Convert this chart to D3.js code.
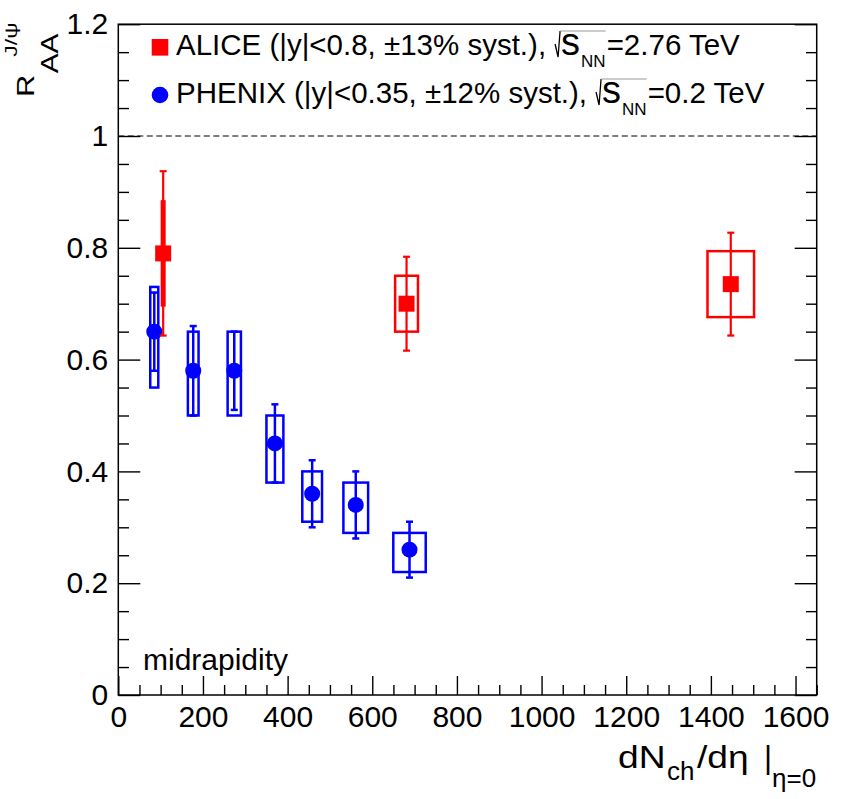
<!DOCTYPE html>
<html>
<head>
<meta charset="utf-8">
<script src="https://cdn.jsdelivr.net/npm/d3@7"></script>
<style>
  body { margin: 0; background: #fff; }
</style>
</head>
<body>
<script>
// ALICE J/psi RAA, Pb-Pb 2.76 TeV (red squares)
const aliceX = [106, 681, 1447];
const aliceY = [0.79, 0.70, 0.735];
const aliceStat = [0.147, 0.084, 0.092];
const aliceSyst = [0.093, 0.05, 0.059];
const aliceSystHalfW = [3, 27, 55];

// PHENIX J/psi RAA, Au-Au 0.2 TeV (blue circles)
const phenixX = [85, 177, 274, 370, 458, 561, 688];
const phenixY = [0.65, 0.58, 0.58, 0.45, 0.36, 0.34, 0.26];
const phenixStat = [0.07, 0.08, 0.07, 0.07, 0.06, 0.06, 0.05];
const phenixSystHi = [0.73, 0.65, 0.65, 0.50, 0.40, 0.38, 0.29];
const phenixSystLo = [0.55, 0.50, 0.50, 0.38, 0.31, 0.29, 0.22];
const phenixSystHalfW = [9.5, 12.6, 15.7, 20, 23.3, 29.2, 38.3];

const xMajor = [0, 200, 400, 600, 800, 1000, 1200, 1400, 1600];
const yMajor = [0, 0.2, 0.4, 0.6, 0.8, 1, 1.2];
const yLabels = ["0", "0.2", "0.4", "0.6", "0.8", "1", "1.2"];

const font = "'Liberation Sans', Arial, Helvetica, sans-serif";

const svg = d3.select("body").append("svg")
    .attr("width", 847)
    .attr("height", 799);

const x = d3.scaleLinear().domain([0, 1650]).range([118.3, 816.7]);
const y = d3.scaleLinear().domain([0, 1.2]).range([695, 24.2]);

function styleAxis(g, size) {
    g.select(".domain").remove();
    g.selectAll("line").attr("stroke", "#000").attr("stroke-width", 1.4);
    g.selectAll("text").attr("font-size", size).attr("font-family", font).attr("fill", "#000");
}

// x axis, ticks pointing into the frame
const xMinor = d3.range(0, 1651, 50).filter(d => d % 200 !== 0);
svg.append("g").attr("transform", "translate(0,695)")
    .call(d3.axisBottom(x).tickValues(xMinor).tickSize(-10).tickFormat(""))
    .call(g => styleAxis(g, 30));
svg.append("g").attr("transform", "translate(0,695)")
    .call(d3.axisBottom(x).tickValues(xMajor).tickSize(-19).tickPadding(11).tickFormat(d3.format("d")))
    .call(g => styleAxis(g, 30));

// y axis left + right
const yMinor = d3.range(0, 24).map(i => i * 0.05).filter((d, i) => i % 4 !== 0);
svg.append("g").attr("transform", "translate(118.3,0)")
    .call(d3.axisLeft(y).tickValues(yMinor).tickSize(-10.7).tickFormat(""))
    .call(g => styleAxis(g, 30));
svg.append("g").attr("transform", "translate(118.3,0)")
    .call(d3.axisLeft(y).tickValues(yMajor).tickSize(-22).tickPadding(10)
        .tickFormat((d, i) => yLabels[i]))
    .call(g => styleAxis(g, 30));
svg.append("g").attr("transform", "translate(816.7,0)")
    .call(d3.axisLeft(y).tickValues(yMinor).tickSize(10.7).tickFormat(""))
    .call(g => styleAxis(g, 30));
svg.append("g").attr("transform", "translate(816.7,0)")
    .call(d3.axisLeft(y).tickValues(yMajor).tickSize(22).tickFormat(""))
    .call(g => styleAxis(g, 30));

// frame
svg.append("rect")
    .attr("x", x(0)).attr("y", y(1.2))
    .attr("width", x(1650) - x(0)).attr("height", y(0) - y(1.2))
    .attr("fill", "none").attr("stroke", "#000").attr("stroke-width", 1.5);

// RAA = 1 reference
svg.append("line")
    .attr("x1", x(0)).attr("x2", x(1650))
    .attr("y1", y(1)).attr("y2", y(1))
    .attr("stroke", "#000").attr("stroke-width", 1)
    .attr("stroke-dasharray", "6,3.5");

// PHENIX
const phenix = phenixX.map((v, i) => ({
    x: v, y: phenixY[i], stat: phenixStat[i],
    hi: phenixSystHi[i], lo: phenixSystLo[i], hw: phenixSystHalfW[i]
}));
const gP = svg.append("g");
gP.selectAll("rect").data(phenix).enter().append("rect")
    .attr("x", d => x(d.x - d.hw))
    .attr("y", d => y(d.hi))
    .attr("width", d => x(d.x + d.hw) - x(d.x - d.hw))
    .attr("height", d => y(d.lo) - y(d.hi))
    .attr("fill", "none").attr("stroke", "#0000ff").attr("stroke-width", 2.5);
gP.selectAll("line.bar").data(phenix).enter().append("line")
    .attr("class", "bar")
    .attr("x1", d => x(d.x)).attr("x2", d => x(d.x))
    .attr("y1", d => y(d.y + d.stat)).attr("y2", d => y(d.y - d.stat))
    .attr("stroke", "#0000ff").attr("stroke-width", 2.5);
[1, -1].forEach(s => {
    gP.selectAll("line.cap" + (s > 0 ? "t" : "b")).data(phenix).enter().append("line")
        .attr("class", "cap" + (s > 0 ? "t" : "b"))
        .attr("x1", d => x(d.x) - 3.5).attr("x2", d => x(d.x) + 3.5)
        .attr("y1", d => y(d.y + s * d.stat)).attr("y2", d => y(d.y + s * d.stat))
        .attr("stroke", "#0000ff").attr("stroke-width", 2.5);
});
gP.selectAll("circle").data(phenix).enter().append("circle")
    .attr("cx", d => x(d.x)).attr("cy", d => y(d.y)).attr("r", 8)
    .attr("fill", "#0000ff");

// ALICE
const alice = aliceX.map((v, i) => ({
    x: v, y: aliceY[i], stat: aliceStat[i], syst: aliceSyst[i], hw: aliceSystHalfW[i]
}));
const gA = svg.append("g");
gA.selectAll("rect.sys").data(alice).enter().append("rect")
    .attr("class", "sys")
    .attr("x", d => x(d.x - d.hw))
    .attr("y", d => y(d.y + d.syst))
    .attr("width", d => x(d.x + d.hw) - x(d.x - d.hw))
    .attr("height", d => y(d.y - d.syst) - y(d.y + d.syst))
    .attr("fill", "none").attr("stroke", "#ff0000").attr("stroke-width", 2.5);
gA.selectAll("line.bar").data(alice).enter().append("line")
    .attr("class", "bar")
    .attr("x1", d => x(d.x)).attr("x2", d => x(d.x))
    .attr("y1", d => y(d.y + d.stat)).attr("y2", d => y(d.y - d.stat))
    .attr("stroke", "#ff0000").attr("stroke-width", 2.2);
[1, -1].forEach(s => {
    gA.selectAll("line.cap" + (s > 0 ? "t" : "b")).data(alice).enter().append("line")
        .attr("class", "cap" + (s > 0 ? "t" : "b"))
        .attr("x1", d => x(d.x) - 3.5).attr("x2", d => x(d.x) + 3.5)
        .attr("y1", d => y(d.y + s * d.stat)).attr("y2", d => y(d.y + s * d.stat))
        .attr("stroke", "#ff0000").attr("stroke-width", 2.2);
});
gA.selectAll("rect.mk").data(alice).enter().append("rect")
    .attr("class", "mk")
    .attr("x", d => x(d.x) - 8).attr("y", d => y(d.y) - 8)
    .attr("width", 16).attr("height", 16)
    .attr("fill", "#ff0000");

// text helpers
function addText(px, py, str, size, tf) {
    const t = svg.append("text")
        .attr("font-size", size).attr("font-family", font).attr("fill", "#000")
        .text(str);
    if (tf) t.attr("transform", `translate(${px},${py}) ${tf}`);
    else t.attr("x", px).attr("y", py);
    return t;
}

function legendRow(base, lead, tail) {
    const t1 = addText(176, base, lead, 29.5);
    const rx = 176 + t1.node().getComputedTextLength() + 9;
    svg.append("path")
        .attr("d", `M${rx},${base - 11} L${rx + 3},${base + 2} L${rx + 5},${base - 24}`)
        .attr("fill", "none").attr("stroke", "#000").attr("stroke-width", 1.3);
    const ts = addText(rx + 6, base, "s", 38);
    const nx = rx + 6 + ts.node().getComputedTextLength() + 1;
    const tn = addText(nx, base + 12, "NN", 17);
    const ex = nx + tn.node().getComputedTextLength();
    svg.append("line")
        .attr("x1", rx + 5).attr("x2", ex)
        .attr("y1", base - 24).attr("y2", base - 24)
        .attr("stroke", "#999").attr("stroke-width", 1);
    addText(ex + 1, base, tail, 29.5);
}

// legend
svg.append("rect").attr("x", 151.7).attr("y", 39).attr("width", 16.6).attr("height", 16.6)
    .attr("fill", "#ff0000");
legendRow(55, "ALICE (|y|<0.8, \u00b113% syst.),", "=2.76 TeV");
svg.append("circle").attr("cx", 160).attr("cy", 95).attr("r", 8.3).attr("fill", "#0000ff");
legendRow(103, "PHENIX (|y|<0.35, \u00b112% syst.),", "=0.2 TeV");

// label inside frame
addText(143, 670, "midrapidity", 30);

// x title
addText(618, 768, "dN", 31, "scale(1.2,1)");
addText(667, 780, "ch", 26);
addText(697, 768, "/d\u03b7", 31, "scale(1.2,1)");
addText(764, 768, "|", 31);
addText(772, 787, "\u03b7=0", 26);

// y title (rotated)
addText(33.5, 97, "R", 28, "rotate(-90) scale(1.1,0.86)");
addText(57.5, 73.3, "AA", 27, "rotate(-90) scale(1.1,0.88)");
addText(16.5, 56.7, "J/\u03c8", 20, "rotate(-90) scale(1.15,0.85)");
</script>
</body>
</html>
